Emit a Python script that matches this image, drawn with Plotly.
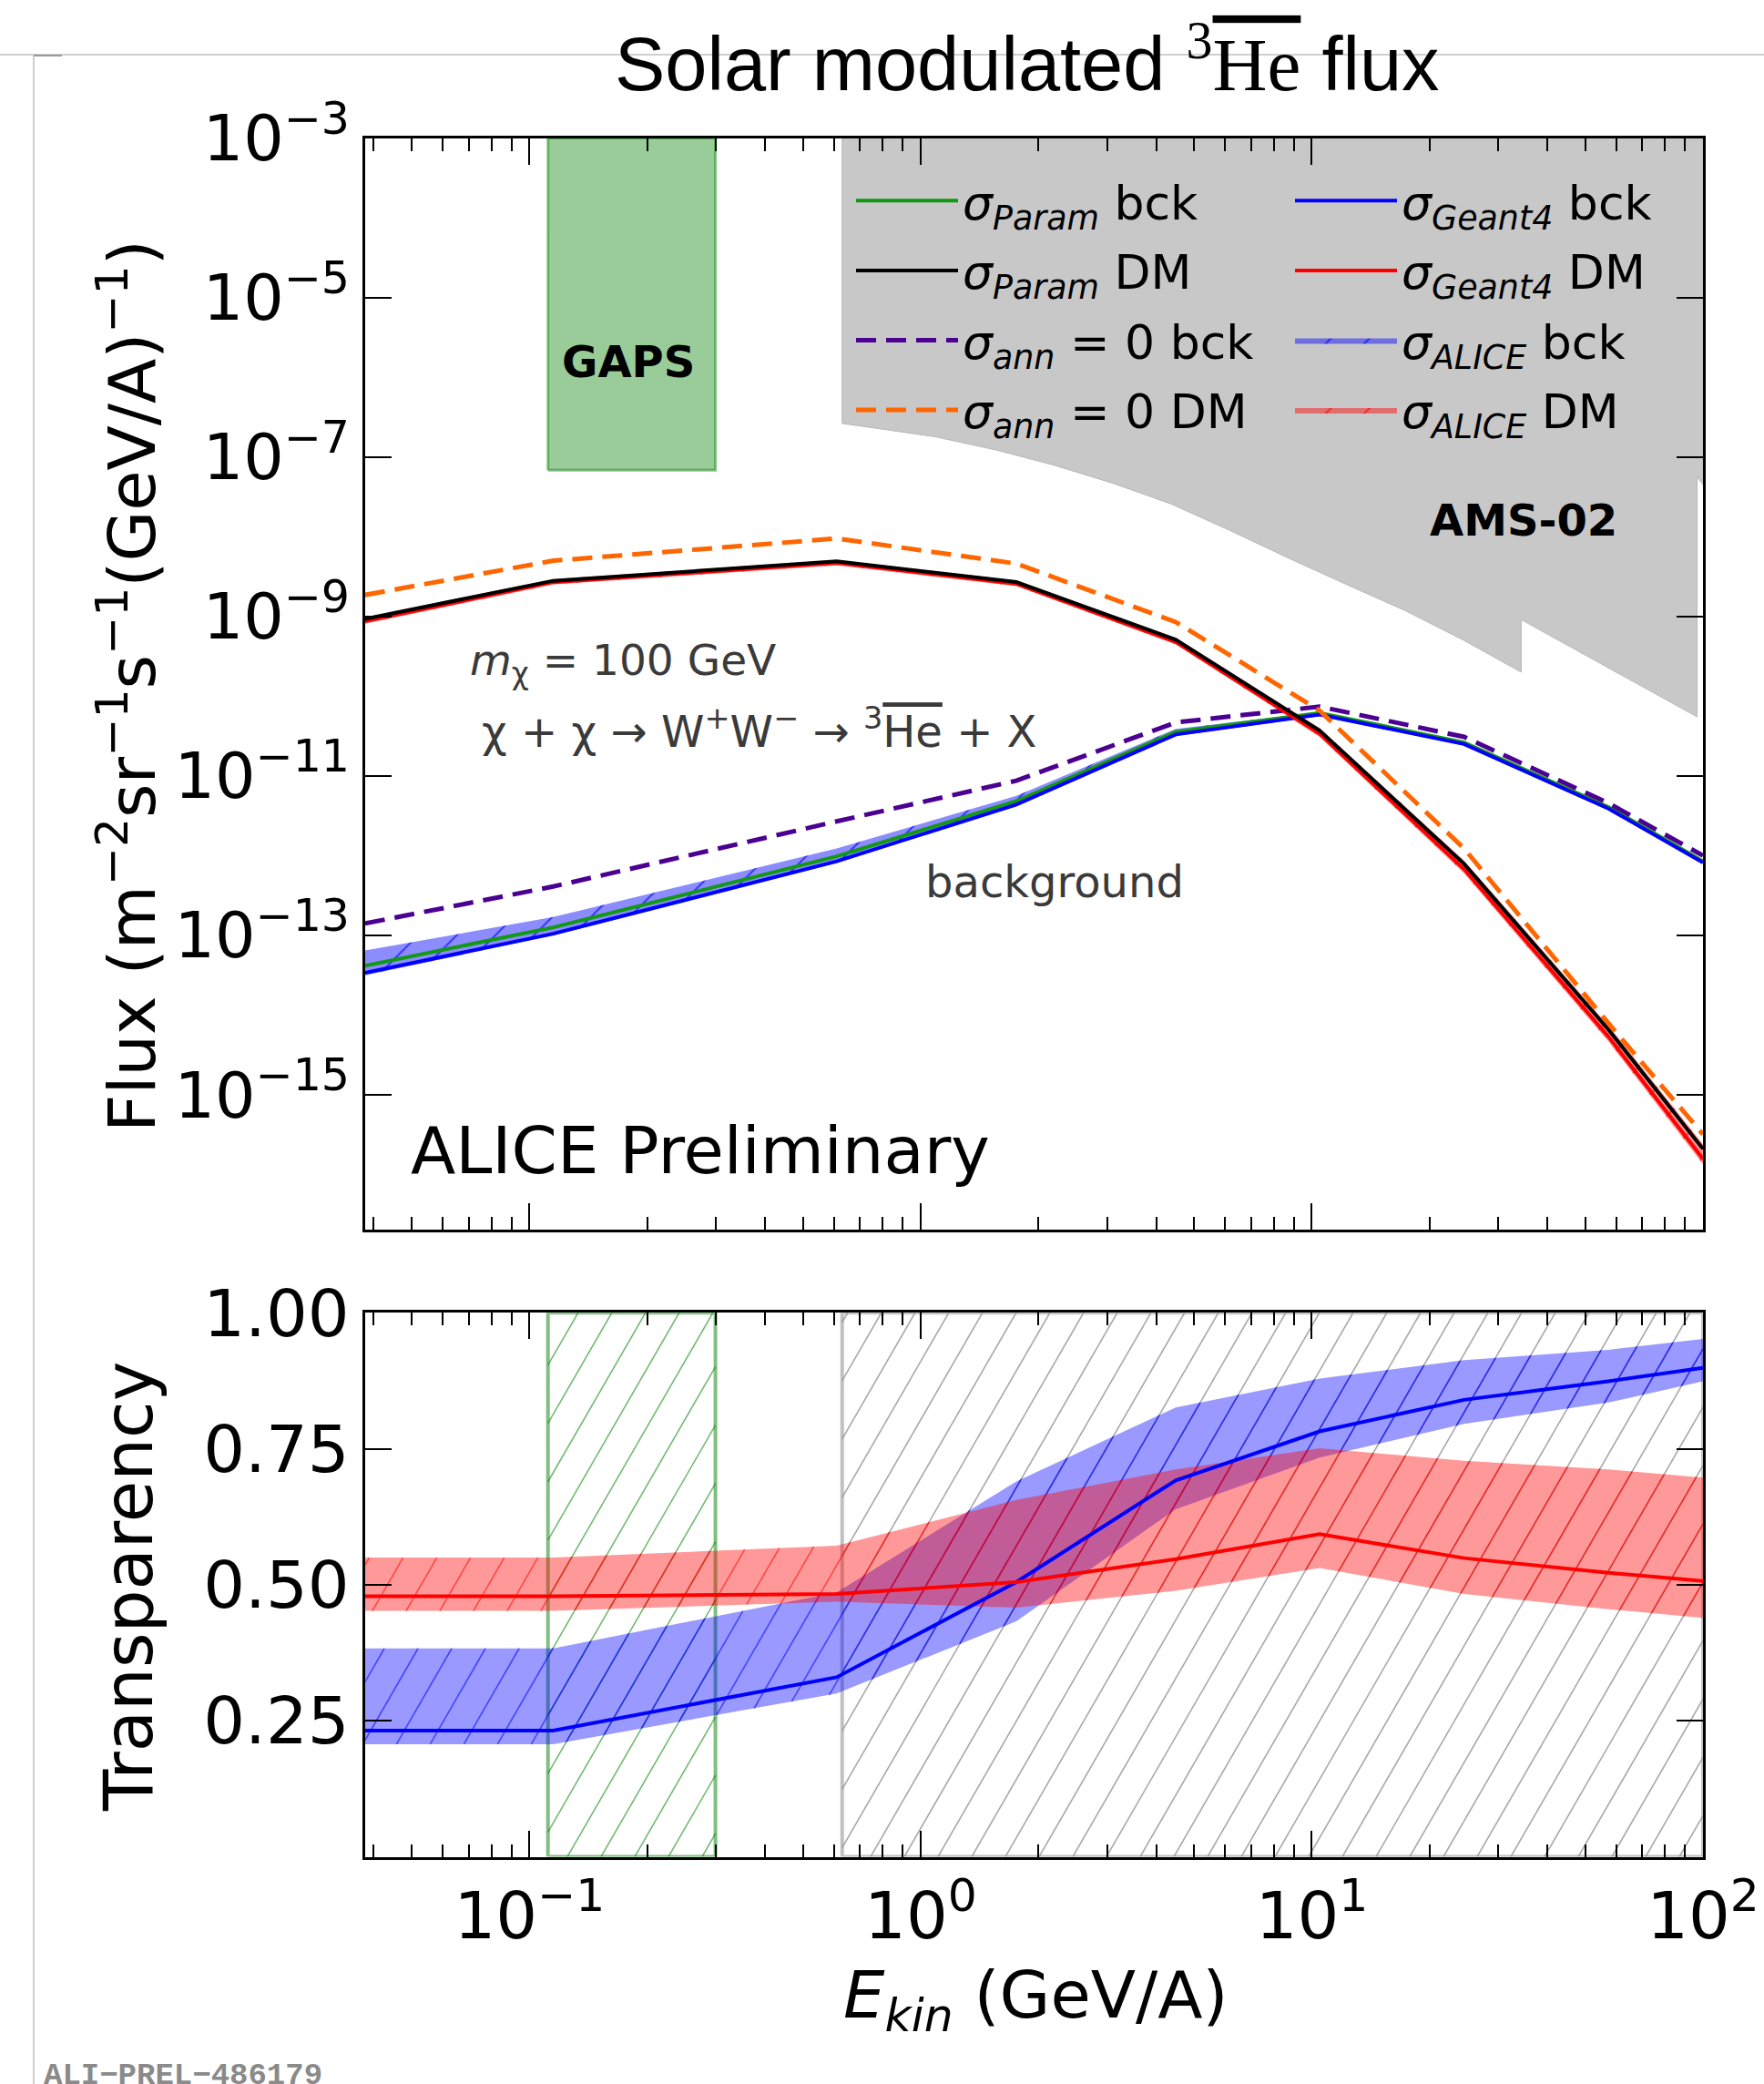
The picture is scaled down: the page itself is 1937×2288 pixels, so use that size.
import math
import plotly.graph_objects as go

# ------------------------------------------------------------------ data
E_KIN = [0.038, 0.115, 0.61, 1.756, 4.49, 10.47, 24.5, 57.3, 100.0]

FLUX_PARAM_BCK = [4.17e-14, 1.26e-13, 9.8e-13, 4.84e-12, 3.57e-11, 6.17e-11, 2.63e-11, 4.07e-12, 8.5e-13]
FLUX_PARAM_DM = [9.3e-10, 2.8e-9, 4.9e-9, 2.7e-9, 5.1e-10, 3.7e-11, 7.9e-13, 6.6e-15, 2.1e-16]
FLUX_ANN0_BCK = [1.41e-13, 4.1e-13, 2.69e-12, 8.7e-12, 4.68e-11, 7.4e-11, 3.09e-11, 4.57e-12, 1.0e-12]
FLUX_ANN0_DM = [1.86e-9, 5.0e-9, 9.5e-9, 4.6e-9, 8.5e-10, 6.6e-11, 1.23e-12, 7.9e-15, 3.2e-16]
FLUX_GEANT4_BCK = [3.39e-14, 1.05e-13, 8.5e-13, 4.37e-12, 3.31e-11, 5.89e-11, 2.51e-11, 3.89e-12, 8.2e-13]
FLUX_GEANT4_DM = [8.7e-10, 2.69e-9, 4.68e-9, 2.57e-9, 4.79e-10, 3.39e-11, 6.76e-13, 5.37e-15, 1.58e-16]
FLUX_ALICE_BCK_LO = [3.16e-14, 1.0e-13, 8.1e-13, 4.17e-12, 3.16e-11, 5.62e-11, 2.4e-11, 3.72e-12, 7.9e-13]
FLUX_ALICE_BCK_HI = [6.46e-14, 1.70e-13, 1.23e-12, 5.62e-12, 3.89e-11, 6.31e-11, 2.69e-11, 4.17e-12, 8.7e-13]
FLUX_ALICE_DM_LO = [8.1e-10, 2.51e-9, 4.37e-9, 2.4e-9, 4.47e-10, 3.09e-11, 6.0e-13, 4.68e-15, 1.35e-16]
FLUX_ALICE_DM_HI = [9.8e-10, 2.95e-9, 5.1e-9, 2.82e-9, 5.4e-10, 3.98e-11, 8.7e-13, 7.4e-15, 2.4e-16]

TRANSP_BCK = [0.232, 0.232, 0.330, 0.505, 0.692, 0.782, 0.840, 0.874, 0.899]
TRANSP_BCK_LO = [0.207, 0.207, 0.300, 0.433, 0.639, 0.734, 0.796, 0.835, 0.874]
TRANSP_BCK_HI = [0.383, 0.383, 0.486, 0.690, 0.826, 0.879, 0.913, 0.932, 0.952]
TRANSP_DM = [0.479, 0.479, 0.483, 0.505, 0.547, 0.593, 0.549, 0.522, 0.507]
TRANSP_DM_LO = [0.452, 0.452, 0.469, 0.458, 0.489, 0.531, 0.483, 0.455, 0.439]
TRANSP_DM_HI = [0.550, 0.550, 0.572, 0.656, 0.712, 0.751, 0.728, 0.712, 0.697]

# experiment sensitivity regions
GAPS_E = [0.1115, 0.2988]
GAPS_FLUX_MIN = 6.8e-8
AMS_E = [0.63, 0.63, 0.794, 1.096, 1.55, 2.19, 3.09, 4.37, 6.17, 8.71, 12.3, 17.4,
         24.5, 34.3, 34.3, 96.6, 96.6, 100.0, 100.0]
AMS_FLUX = [1e-3, 2.63e-7, 2.24e-7, 1.78e-7, 1.23e-7, 7.9e-8, 4.7e-8, 2.57e-8, 1.2e-8,
            5.4e-9, 2.5e-9, 1.17e-9, 5.0e-10, 2.0e-10, 9.1e-10, 5.5e-11, 5.6e-8, 4.5e-8, 1e-3]

# axis ticks
FLUX_TICKS = [1e-3, 1e-5, 1e-7, 1e-9, 1e-11, 1e-13, 1e-15]
FLUX_TICK_TEXT = ["10<sup>−3</sup>", "10<sup>−5</sup>", "10<sup>−7</sup>", "10<sup>−9</sup>",
                  "10<sup>−11</sup>", "10<sup>−13</sup>", "10<sup>−15</sup>"]
E_TICKS = [0.1, 1, 10, 100]
E_TICK_TEXT = ["10<sup>−1</sup>", "10<sup>0</sup>", "10<sup>1</sup>", "10<sup>2</sup>"]
E_MINOR = [m * 10.0 ** d for d in (-2, -1, 0, 1) for m in range(2, 10) if 0.038 <= m * 10.0 ** d <= 100]
T_TICKS = [0.25, 0.50, 0.75, 1.00]
T_TICK_TEXT = ["0.25", "0.50", "0.75", "1.00"]

E_RANGE = [-1.42, 2.0]
FLUX_RANGE = [-16.69, -3.0]
T_RANGE = [0.0, 1.0]

# ------------------------------------------------------------------ layout helpers
W, H = 1937, 2288
PLOT_L, PLOT_R = 401, 1870
UP_T, UP_B = 151.5, 1350
LO_T, LO_B = 1441.3, 2038.5

def px(x):
    return x / W
def py(y):
    return 1 - y / H

FONT = "DejaVu Sans"
GREEN = "#119911"
BLUE = "#0000ff"
RED = "#ff0000"
PURPLE = "#4b0092"
ORANGE = "#ff6600"

# hatch geometry for the lower panel (matplotlib-like "/" hatching)
HATCH_STEP = 37.0                       # horizontal spacing in px
HATCH_K = 1 / math.tan(math.radians(60))  # dx/dy of hatch lines
LW_PX = PLOT_R - PLOT_L
LH_PX = LO_B - LO_T

def _to_uv(x, y):
    u = (math.log10(x) - E_RANGE[0]) / (E_RANGE[1] - E_RANGE[0]) * LW_PX
    v = (y - T_RANGE[0]) / (T_RANGE[1] - T_RANGE[0]) * LH_PX
    return u, v

def _from_uv(u, v):
    x = 10 ** (E_RANGE[0] + u / LW_PX * (E_RANGE[1] - E_RANGE[0]))
    y = T_RANGE[0] + v / LH_PX * (T_RANGE[1] - T_RANGE[0])
    return x, y

def hatch(poly_x, poly_y):
    pts = [_to_uv(a, b) for a, b in zip(poly_x, poly_y)]
    if pts[0] != pts[-1]:
        pts.append(pts[0])
    cs = [u - v * HATCH_K for u, v in pts]
    xs, ys = [], []
    for i in range(math.floor(min(cs) / HATCH_STEP), math.ceil(max(cs) / HATCH_STEP) + 1):
        c = i * HATCH_STEP
        vs = []
        for (u1, v1), (u2, v2) in zip(pts[:-1], pts[1:]):
            f1 = u1 - v1 * HATCH_K - c
            f2 = u2 - v2 * HATCH_K - c
            if (f1 < 0) != (f2 < 0):
                t = f1 / (f1 - f2)
                vs.append(v1 + t * (v2 - v1))
        vs.sort()
        for a, b in zip(vs[0::2], vs[1::2]):
            for v in (a, b):
                x, y = _from_uv(c + v * HATCH_K, v)
                xs.append(x)
                ys.append(y)
            xs.append(None)
            ys.append(None)
    return xs, ys

fig = go.Figure()

# ---------------- upper panel
fig.add_trace(go.Scatter(x=AMS_E, y=AMS_FLUX, mode="lines", fill="toself", fillcolor="#c8c8c8",
                         line=dict(color="#b8b8b8", width=1), showlegend=False, hoverinfo="skip",
                         xaxis="x", yaxis="y"))
fig.add_trace(go.Scatter(x=[GAPS_E[0], GAPS_E[1], GAPS_E[1], GAPS_E[0], GAPS_E[0]],
                         y=[GAPS_FLUX_MIN, GAPS_FLUX_MIN, 10 ** FLUX_RANGE[1], 10 ** FLUX_RANGE[1], GAPS_FLUX_MIN],
                         mode="lines", fill="toself", fillcolor="rgba(0,128,0,0.4)",
                         line=dict(color="rgba(0,128,0,0.45)", width=3), showlegend=False,
                         hoverinfo="skip", xaxis="x", yaxis="y"))

def band_upper(lo, hi, rgb, name, rank):
    fig.add_trace(go.Scatter(x=E_KIN, y=lo, mode="lines", line=dict(width=0, color="rgba(%s,0.4)" % rgb),
                             showlegend=False, hoverinfo="skip", xaxis="x", yaxis="y",
                             legend="legend2", legendgroup=name))
    fig.add_trace(go.Scatter(x=E_KIN, y=hi, mode="lines", line=dict(width=0, color="rgba(%s,0.4)" % rgb),
                             fill="tonexty", fillcolor="rgba(%s,0.4)" % rgb,
                             fillpattern=dict(shape="/", bgcolor="rgba(%s,0.45)" % rgb,
                                              fgcolor="rgb(%s)" % rgb, fgopacity=0.7,
                                              size=30, solidity=0.06),
                             name=name, legend="legend2", legendrank=rank, legendgroup=name,
                             hoverinfo="skip", xaxis="x", yaxis="y"))

def line(y, color, name, legend, rank, dash=None, width=4):
    fig.add_trace(go.Scatter(x=E_KIN, y=y, mode="lines",
                             line=dict(color=color, width=width, dash=dash),
                             name=name, legend=legend, legendrank=rank, legendgroup=name,
                             xaxis="x", yaxis="y"))

band_upper(FLUX_ALICE_BCK_LO, FLUX_ALICE_BCK_HI, "0,0,255", "<i>σ</i><sub><i>ALICE</i></sub> bck", 3)
line(FLUX_PARAM_BCK, GREEN, "<i>σ</i><sub><i>Param</i></sub> bck", "legend", 1)
line(FLUX_GEANT4_BCK, BLUE, "<i>σ</i><sub><i>Geant4</i></sub> bck", "legend2", 1)
line(FLUX_ANN0_BCK, PURPLE, "<i>σ</i><sub><i>ann</i></sub> = 0 bck", "legend", 3, dash="22px,11px", width=5)
band_upper(FLUX_ALICE_DM_LO, FLUX_ALICE_DM_HI, "255,0,0", "<i>σ</i><sub><i>ALICE</i></sub> DM", 4)
line(FLUX_GEANT4_DM, RED, "<i>σ</i><sub><i>Geant4</i></sub> DM", "legend2", 2)
line(FLUX_PARAM_DM, "black", "<i>σ</i><sub><i>Param</i></sub> DM", "legend", 2)
line(FLUX_ANN0_DM, ORANGE, "<i>σ</i><sub><i>ann</i></sub> = 0 DM", "legend", 4, dash="22px,11px", width=5)

# ---------------- lower panel
def region_lower(x0, x1, edge_color, hatch_color):
    rx = [x0, x1, x1, x0, x0]
    ry = [T_RANGE[0], T_RANGE[0], T_RANGE[1], T_RANGE[1], T_RANGE[0]]
    hx, hy = hatch(rx, ry)
    fig.add_trace(go.Scatter(x=hx, y=hy, mode="lines", line=dict(color=hatch_color, width=1.6),
                             showlegend=False, hoverinfo="skip", xaxis="x2", yaxis="y2"))
    fig.add_trace(go.Scatter(x=rx, y=ry, mode="lines", line=dict(color=edge_color, width=4),
                             showlegend=False, hoverinfo="skip", xaxis="x2", yaxis="y2"))

region_lower(GAPS_E[0], GAPS_E[1], "rgba(0,128,0,0.5)", "rgba(0,128,0,0.55)")
region_lower(AMS_E[0], AMS_E[-1], "rgba(150,150,150,0.6)", "rgba(110,110,110,0.6)")

def band_lower(lo, hi, rgb):
    fig.add_trace(go.Scatter(x=E_KIN, y=lo, mode="lines", line=dict(width=0),
                             showlegend=False, hoverinfo="skip", xaxis="x2", yaxis="y2"))
    fig.add_trace(go.Scatter(x=E_KIN, y=hi, mode="lines", line=dict(width=0),
                             fill="tonexty", fillcolor="rgba(%s,0.4)" % rgb,
                             showlegend=False, hoverinfo="skip", xaxis="x2", yaxis="y2"))
    hx, hy = hatch(E_KIN + E_KIN[::-1], lo + hi[::-1])
    fig.add_trace(go.Scatter(x=hx, y=hy, mode="lines", line=dict(color="rgba(%s,0.55)" % rgb, width=1.6),
                             showlegend=False, hoverinfo="skip", xaxis="x2", yaxis="y2"))

band_lower(TRANSP_BCK_LO, TRANSP_BCK_HI, "0,0,255")
band_lower(TRANSP_DM_LO, TRANSP_DM_HI, "255,0,0")
fig.add_trace(go.Scatter(x=E_KIN, y=TRANSP_BCK, mode="lines", line=dict(color=BLUE, width=4),
                         showlegend=False, xaxis="x2", yaxis="y2"))
fig.add_trace(go.Scatter(x=E_KIN, y=TRANSP_DM, mode="lines", line=dict(color=RED, width=4),
                         showlegend=False, xaxis="x2", yaxis="y2"))

# ------------------------------------------------------------------ axes
X_DOM = [px(PLOT_L), px(PLOT_R)]
common = dict(showline=True, linecolor="black", linewidth=3, mirror="allticks",
              ticks="inside", tickcolor="black", tickwidth=2, ticklen=29, automargin=False,
              showgrid=False, zeroline=False)
minor = dict(tickvals=E_MINOR, ticks="inside", ticklen=14, tickwidth=2, tickcolor="black", showgrid=False)

legend_common = dict(xanchor="left", yanchor="top", bgcolor="rgba(0,0,0,0)",
                     font=dict(family=FONT, size=52, color="black"), itemwidth=112,
                     tracegroupgap=6, traceorder="grouped")

fig.update_layout(
    width=W, height=H, margin=dict(l=0, r=0, t=0, b=0, autoexpand=False),
    paper_bgcolor="white", plot_bgcolor="white",
    font=dict(family=FONT, color="black"),
    xaxis=dict(domain=X_DOM, anchor="y", type="log", range=E_RANGE, tickvals=E_TICKS,
               showticklabels=False, minor=minor, **common),
    yaxis=dict(domain=[py(UP_B), py(UP_T)], anchor="x", type="log", range=FLUX_RANGE,
               tickvals=FLUX_TICKS, ticktext=FLUX_TICK_TEXT,
               tickfont=dict(family=FONT, size=70, color="black"), **common),
    xaxis2=dict(domain=X_DOM, anchor="y2", type="log", range=E_RANGE, tickvals=E_TICKS,
                ticktext=E_TICK_TEXT, minor=minor,
                tickfont=dict(family=FONT, size=72, color="black"), **common),
    yaxis2=dict(domain=[py(LO_B), py(LO_T)], anchor="x2", range=T_RANGE,
                tickvals=T_TICKS, ticktext=T_TICK_TEXT,
                tickfont=dict(family=FONT, size=72, color="black"), **common),
    legend=dict(x=px(935), y=py(180), **legend_common),
    legend2=dict(x=px(1417), y=py(180), **legend_common),
    showlegend=True,
)

HE_BAR = "<span style='text-decoration:overline'>He</span>"
annotations = [
    dict(text="Solar modulated <span style='font-family:Liberation Serif'><sup>3</sup>"
              "<span style='text-decoration:overline'>He</span></span> flux",
         x=px(1128), y=py(64), font=dict(family="Liberation Sans", size=83, color="black")),
    dict(text="Flux (m<sup>−2</sup>sr<sup>−1</sup>s<sup>−1</sup>(GeV/A)<sup>−1</sup>)",
         x=px(140), y=py(753), textangle=-90, font=dict(size=72)),
    dict(text="Transparency", x=px(141), y=py(1742), textangle=-90, font=dict(size=74)),
    dict(text="<i>E</i><sub><i>kin</i></sub> (GeV/A)", x=px(1137), y=py(2195), font=dict(size=72)),
    dict(text="<b>GAPS</b>", x=px(690), y=py(397), font=dict(size=48)),
    dict(text="<b>AMS-02</b>", x=px(1673), y=py(571), font=dict(size=48)),
    dict(text="<i>m</i><sub>χ</sub> = 100 GeV", x=px(514), y=py(728), xanchor="left",
         font=dict(size=47, color="#3a3a3a")),
    dict(text="χ + χ → W<sup>+</sup>W<sup>−</sup> → <sup>3</sup>" + HE_BAR + " + X",
         x=px(527), y=py(800), xanchor="left", font=dict(size=48, color="#3a3a3a")),
    dict(text="background", x=px(1158), y=py(968), font=dict(size=48, color="#3a3a3a")),
    dict(text="ALICE Preliminary", x=px(449), y=py(1263), xanchor="left", font=dict(size=72)),
    dict(text="<b>ALI−PREL−486179</b>", x=px(46), y=py(2258), xanchor="left", yanchor="top",
         font=dict(family="Liberation Mono", size=34, color="#8a8a8a")),
]
for a in annotations:
    a.setdefault("xref", "paper")
    a.setdefault("yref", "paper")
    a.setdefault("xanchor", "center")
    a.setdefault("yanchor", "middle")
    a.setdefault("showarrow", False)
    f = a.setdefault("font", {})
    f.setdefault("family", FONT)
    f.setdefault("color", "black")
fig.update_layout(annotations=annotations)

# screenshot frame lines
fig.update_layout(shapes=[
    dict(type="line", xref="paper", yref="paper", x0=0, x1=1, y0=py(60), y1=py(60),
         line=dict(color="#cfcfcf", width=2)),
    dict(type="line", xref="paper", yref="paper", x0=px(37), x1=px(37), y0=py(60), y1=0,
         line=dict(color="#cfcfcf", width=2)),
    dict(type="line", xref="paper", yref="paper", x0=px(37), x1=px(68), y0=py(61), y1=py(61),
         line=dict(color="#9a9a9a", width=2)),
])

fig.write_html("out.html")
